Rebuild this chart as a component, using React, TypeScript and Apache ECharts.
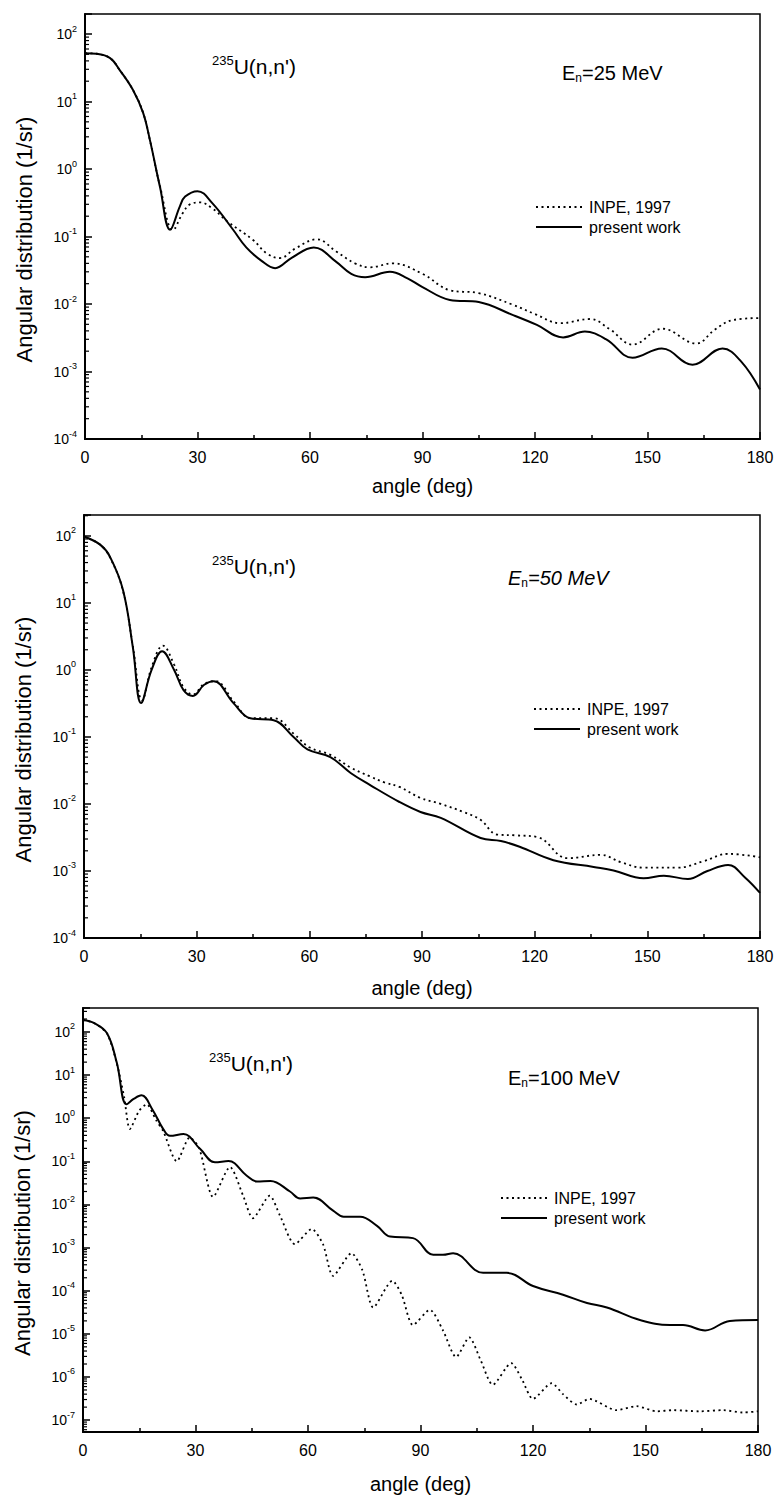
import React, { useEffect, useRef } from 'react';
import * as echarts from 'echarts';

const FONT = "'Liberation Sans', Arial, Helvetica, sans-serif";

// ---------- data: [angle (deg), angular distribution (1/sr)] ----------
const p1Inpe: [number, number][] = [
  [0, 52], [3, 51], [6.7, 44], [9.3, 29], [12.8, 14.8], [15.5, 6.8], [17.3, 2.7], [20, 0.56],
  [23.5, 0.125], [26, 0.22], [28, 0.3], [30.7, 0.32], [34, 0.26], [37.8, 0.17], [44.8, 0.089],
  [48.5, 0.056], [52, 0.048], [56, 0.066], [61.8, 0.091], [67, 0.06], [72, 0.04], [76, 0.035],
  [82, 0.04], [90, 0.028], [97.3, 0.016], [105, 0.0145], [114, 0.0098], [120, 0.0071],
  [126.7, 0.0052], [134.7, 0.006], [140, 0.0042], [146, 0.0025], [154, 0.0043], [163, 0.0026],
  [168, 0.0042], [172.8, 0.0058], [180, 0.0062],
];
const p1Present: [number, number][] = [
  [0, 52], [3, 51], [6.7, 44], [9.3, 29], [12.8, 14.8], [15.5, 6.8], [17.3, 2.7], [20, 0.54],
  [22.7, 0.126], [25.3, 0.28], [26.7, 0.39], [30, 0.47], [34, 0.31], [39.5, 0.126], [43, 0.069],
  [47, 0.044], [50.7, 0.034], [55, 0.048], [61, 0.069], [67, 0.042], [71, 0.028], [74.7, 0.025],
  [81.3, 0.03], [86, 0.024], [90, 0.0178], [97.3, 0.0115], [105, 0.0107], [114, 0.0069],
  [120.5, 0.0049], [127.5, 0.0032], [133.3, 0.0039], [139, 0.003], [146, 0.0016], [153.8, 0.0022],
  [162, 0.00126], [170, 0.0022], [175, 0.0014], [180, 0.00054],
];
const p2Inpe: [number, number][] = [
  [0, 98], [4.3, 74], [6.9, 48], [10.4, 15], [13, 2.3], [15.5, 0.35], [18, 1.1], [21, 2.3],
  [24, 1.2], [26.5, 0.55], [29, 0.43], [32, 0.62], [35, 0.68], [40, 0.33], [44.5, 0.19],
  [50.5, 0.19], [56, 0.11], [60, 0.07], [65.6, 0.054], [71, 0.035], [76, 0.026], [80, 0.021],
  [84, 0.018], [89.6, 0.0123], [95, 0.01], [101, 0.0076], [105.6, 0.0058], [110, 0.0035],
  [115, 0.0034], [120.8, 0.0032], [128.8, 0.00155], [137.6, 0.00174], [143, 0.00135],
  [149, 0.00112], [158, 0.00112], [165, 0.0014], [171.5, 0.0018], [180, 0.0016],
];
const p2Present: [number, number][] = [
  [0, 98], [4.3, 74], [6.9, 49], [10.4, 15.5], [13, 2.2], [15.2, 0.32], [18, 1.0], [20.8, 1.9],
  [24, 1.0], [26.5, 0.5], [29, 0.41], [32, 0.6], [34.5, 0.68], [39.8, 0.32], [44.3, 0.19],
  [50.5, 0.178], [55.8, 0.1], [59.5, 0.065], [65.6, 0.05], [71, 0.029], [76.3, 0.019], [84, 0.0107],
  [89.6, 0.0076], [95, 0.0062], [105.6, 0.0031], [111, 0.0028], [116, 0.0023], [125, 0.00145],
  [135.7, 0.00115], [141, 0.00102], [149, 0.00078], [154.4, 0.00085], [160.8, 0.00076],
  [166, 0.001], [171.5, 0.00123], [176, 0.0008], [180, 0.00047],
];
const p3Inpe: [number, number][] = [
  [0, 190], [3, 160], [6.4, 93], [9, 19], [11, 3], [12.5, 0.56], [15, 1.5], [17, 2.1], [19.5, 0.9],
  [21.4, 0.5], [25, 0.1], [28.5, 0.36], [31, 0.2], [34.7, 0.015], [39.2, 0.074], [42.7, 0.016],
  [45.3, 0.0048], [49.8, 0.016], [52.5, 0.0056], [56.5, 0.0012], [61, 0.0027], [64, 0.0012],
  [66.7, 0.00022], [71.6, 0.00074], [74.5, 0.0003], [77.4, 4.1e-5], [82.5, 0.00017], [85, 8e-5],
  [88, 1.6e-5], [92.5, 3.6e-5], [96, 1.2e-5], [99.5, 2.9e-6], [103, 8.3e-6], [106, 2.5e-6],
  [109.3, 6.6e-7], [114.2, 2.1e-6], [117, 9e-7], [120, 3.1e-7], [125, 7.2e-7], [128, 4e-7],
  [131.7, 2.3e-7], [135, 3.1e-7], [142.3, 1.7e-7], [147.6, 2.1e-7], [153, 1.6e-7], [157.3, 1.7e-7],
  [164.5, 1.6e-7], [170.7, 1.7e-7], [176, 1.5e-7], [180, 1.6e-7],
];
const p3Present: [number, number][] = [
  [0, 190], [3, 160], [6.4, 93], [9, 19.5], [11.6, 2.1], [13.5, 2.8], [15.6, 3.4], [18.5, 1.6],
  [21.4, 0.56], [23.2, 0.39], [26.8, 0.43], [31.2, 0.195], [35.2, 0.095], [38.8, 0.102],
  [43.6, 0.047], [46.4, 0.034], [50, 0.035], [55.2, 0.02], [57.9, 0.0138], [61.4, 0.0145],
  [66.7, 0.0072], [69.5, 0.0052], [73.9, 0.0052], [78.4, 0.0032], [81.9, 0.0018], [88, 0.00166],
  [93.4, 0.00068], [96, 0.00068], [98.7, 0.00074], [106.7, 0.00026], [113, 0.00026],
  [120, 0.000129], [128, 8.1e-5], [134.4, 5.2e-5], [139.7, 4.1e-5], [148.5, 2.1e-5],
  [156.5, 1.6e-5], [160, 1.6e-5], [165.9, 1.2e-5], [172.5, 2.0e-5], [180, 2.1e-5],
];

const seriesNames = ['INPE, 1997', 'present work'];
const energies = ['25', '50', '100'];
const reaction = { mass: '235', rest: "U(n,n')" };
const xLabelTitle = 'angle (deg)';
const yLabelTitle = 'Angular distribution (1/sr)';

const panels = [
  { inpe: p1Inpe, present: p1Present, yMin: 1e-4, yMax: 198, dotSmooth: 0.4 },
  { inpe: p2Inpe, present: p2Present, yMin: 1e-4, yMax: 205, dotSmooth: 0.4 },
  { inpe: p3Inpe, present: p3Present, yMin: 5.3e-8, yMax: 360, dotSmooth: 0.25 },
];

// layout (pixels)
const grids = [
  { left: 85, top: 14, width: 675, height: 425 },
  { left: 84, top: 515, width: 676, height: 423 },
  { left: 83, top: 1008, width: 675, height: 424 },
];
const xNameGaps = [37, 40, 42];
const legendPos = [
  { left: 530, top: 194 },
  { left: 528, top: 696 },
  { left: 495, top: 1185 },
];
const reactionPos = [
  { x: 212, y: 66 },
  { x: 212, y: 566 },
  { x: 209, y: 1063 },
];
const energyPos = [
  { x: 562, y: 73 },
  { x: 508, y: 578 },
  { x: 508, y: 1078 },
];

function minorValues(min: number, max: number): number[][] {
  const out: number[][] = [];
  for (let k = -9; k <= 3; k++) {
    for (let m = 2; m <= 9; m++) {
      const v = m * Math.pow(10, k);
      if (v > min && v < max) out.push([0, v]);
    }
  }
  return out;
}

function yFormatter(v: number) {
  const e = Math.log10(v);
  const r = Math.round(e);
  if (Math.abs(e - r) > 1e-6) return '';
  return `{b|10}{s|${r}}`;
}

export default function App() {
  const ref = useRef<HTMLDivElement>(null);
  useEffect(() => {
    if (!ref.current) return;
    const chart = echarts.init(ref.current, null, { renderer: 'svg' });

    const xAxis: any[] = [];
    const yAxis: any[] = [];
    const series: any[] = [];
    const legend: any[] = [];
    const graphic: any[] = [];

    panels.forEach((p, i) => {
      xAxis.push({
        gridIndex: i,
        type: 'value',
        min: 0,
        max: 180,
        interval: 30,
        name: xLabelTitle,
        nameLocation: 'middle',
        nameGap: xNameGaps[i],
        nameTextStyle: { fontSize: 20, color: '#000', fontFamily: FONT },
        axisLine: { show: true, onZero: false, lineStyle: { color: '#000', width: 2 } },
        axisTick: { show: true, inside: true, length: 7, lineStyle: { color: '#000', width: 1.5 } },
        minorTick: { show: true, splitNumber: 2, length: 4, lineStyle: { color: '#000', width: 1.5 } },
        axisLabel: { fontSize: 16, color: '#000', fontFamily: FONT, margin: 10 },
        splitLine: { show: false },
      });
      yAxis.push({
        gridIndex: i,
        type: 'log',
        logBase: 10,
        min: p.yMin,
        max: p.yMax,
        splitNumber: 10,
        name: yLabelTitle,
        nameLocation: 'middle',
        nameGap: 50,
        nameTextStyle: { fontSize: 22, color: '#000', fontFamily: FONT, padding: [0, 26, 0, 0] },
        axisLine: { show: true, onZero: false, lineStyle: { color: '#000', width: 2 } },
        axisTick: { show: true, inside: true, length: 7, lineStyle: { color: '#000', width: 1.5 } },
        axisLabel: {
          formatter: yFormatter,
          margin: 8,
          color: '#000',
          rich: {
            b: { fontSize: 14, lineHeight: 20, fontFamily: FONT, color: '#000' },
            s: { fontSize: 9, lineHeight: 10, verticalAlign: 'top', fontFamily: FONT, color: '#000' },
          },
        },
        splitLine: { show: false },
      });
      series.push({
        name: seriesNames[0],
        type: 'line',
        xAxisIndex: i,
        yAxisIndex: i,
        data: p.inpe,
        smooth: p.dotSmooth,
        symbol: 'none',
        lineStyle: { color: '#000', width: 1.8, type: [2, 3.5] },
        itemStyle: { color: '#000' },
        z: 3,
      });
      series.push({
        name: seriesNames[1],
        type: 'line',
        xAxisIndex: i,
        yAxisIndex: i,
        data: p.present,
        smooth: 0.4,
        symbol: 'none',
        lineStyle: { color: '#000', width: 2, type: 'solid' },
        itemStyle: { color: '#000' },
        z: 4,
      });
      series.push({
        name: 'minor-ticks-' + i,
        type: 'custom',
        xAxisIndex: i,
        yAxisIndex: i,
        silent: true,
        clip: false,
        data: minorValues(p.yMin, p.yMax),
        renderItem: (params: any, api: any) => {
          const pt = api.coord([0, api.value(1)]);
          return {
            type: 'line',
            shape: { x1: pt[0], y1: pt[1], x2: pt[0] + 4, y2: pt[1] },
            style: { stroke: '#000', lineWidth: 1.2 },
          };
        },
        z: 5,
      });
      legend.push({
        show: true,
        left: legendPos[i].left,
        top: legendPos[i].top,
        orient: 'vertical',
        itemWidth: 46,
        itemHeight: 14,
        itemGap: 4,
        selectedMode: false,
        data: seriesNames,
        itemStyle: { opacity: 0 },
        textStyle: { fontSize: 16, color: '#000', fontFamily: FONT, padding: [0, 0, 0, 2] },
      });
      graphic.push({
        type: 'text',
        x: reactionPos[i].x,
        y: reactionPos[i].y,
        style: {
          text: `{s|${reaction.mass}}{m|${reaction.rest}}`,
          verticalAlign: 'middle',
          rich: {
            s: { fontSize: 13, lineHeight: 12, verticalAlign: 'top', fontFamily: FONT, fill: '#000' },
            m: { fontSize: 21, lineHeight: 24, fontFamily: FONT, fill: '#000' },
          },
        },
      });
      const italic = i === 1 ? 'italic' : 'normal';
      graphic.push({
        type: 'text',
        x: energyPos[i].x,
        y: energyPos[i].y,
        style: {
          text: `{m|E}{n|n}{m|=${energies[i]} MeV}`,
          verticalAlign: 'middle',
          rich: {
            m: { fontSize: 20, lineHeight: 22, fontFamily: FONT, fontStyle: italic, fill: '#000' },
            n: { fontSize: 12, lineHeight: 12, verticalAlign: 'bottom', fontFamily: FONT, fill: '#000' },
          },
        },
      });
    });

    chart.setOption({
      animation: false,
      backgroundColor: '#fff',
      textStyle: { fontFamily: FONT },
      grid: grids.map((g) => ({
        ...g,
        show: true,
        borderColor: '#000',
        borderWidth: 1.5,
        backgroundColor: 'transparent',
        containLabel: false,
      })),
      xAxis,
      yAxis,
      legend,
      series,
      graphic,
    });
    return () => chart.dispose();
  }, []);

  return (
    <div
      ref={ref}
      style={{ position: 'absolute', left: 0, top: 0, width: 777, height: 1497, background: '#fff' }}
    />
  );
}
